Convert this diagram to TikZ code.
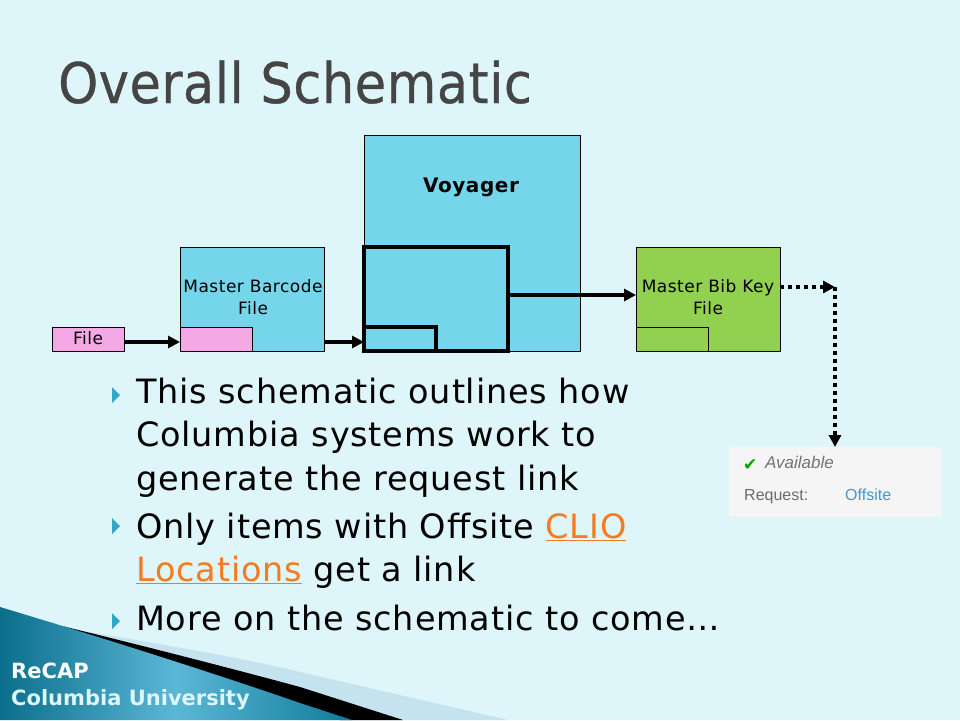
\documentclass[tikz,border=0pt]{standalone}
\usepackage{fontspec}
\setmainfont{DejaVu Sans}
\newfontfamily\cardfont{Liberation Sans}
\newfontfamily\titlefont[FakeStretch=0.91, FakeBold=0.6, LetterSpace=1]{DejaVu Sans}
\newfontfamily\bodyfont[LetterSpace=2.5]{DejaVu Sans}
\newfontfamily\labelfont[LetterSpace=3]{DejaVu Sans}
\usetikzlibrary{arrows.meta, positioning}
\definecolor{slidebg}{HTML}{DEF5FA}
\definecolor{skyblue}{HTML}{75D5EB}
\definecolor{filepink}{HTML}{F5A8E6}
\definecolor{bibgreen}{HTML}{92D050}
\definecolor{linkorange}{HTML}{F47B20}
\definecolor{bulletteal}{HTML}{2FA8C6}
\definecolor{titlegray}{HTML}{454545}
\definecolor{cardgray}{HTML}{F5F5F5}
\definecolor{offsiteblue}{HTML}{3F97D3}
\definecolor{swooshlight}{HTML}{C5E3EE}
\definecolor{footdark}{HTML}{0B6F8C}
\definecolor{footmid}{HTML}{5BB7D6}
\definecolor{footend}{HTML}{0E7C99}
\begin{document}
\begin{tikzpicture}[
    x=1pt, y=-1pt,
    box/.style={draw, line width=0.8pt, inner sep=0pt, outer sep=0pt, anchor=north west},
    boxlabel/.style={inner sep=0pt, align=center, font=\labelfont\fontsize{17}{22}\selectfont},
    bodytext/.style={anchor=base west, inner sep=0pt, font=\bodyfont\fontsize{33.5}{39}\selectfont},
    cardtext/.style={anchor=base west, inner sep=0pt, font=\cardfont\fontsize{16}{19}\selectfont},
    heavy/.style={line width=4pt},
    flow/.style={line width=3.5pt, -{Triangle[length=12pt, width=12pt]}},
    dottedflow/.style={flow, dash pattern=on 4pt off 4pt}
]
    % Slide background
    \fill[slidebg] (0,0) rectangle (960,720);
    \useasboundingbox (0,0) rectangle (960,720);

    % Footer swoosh
    \fill[swooshlight] (60,627) .. controls (140,641) and (230,655) .. (300,672) -- (508,720) -- (300,720) -- cycle;
    \fill[black] (62,626) .. controls (140,645) and (230,668) .. (300,687) -- (403,720) -- (340,720) -- cycle;
    \shade[left color=footdark, right color=footend, middle color=footmid]
        (0,607) .. controls (70,628) and (190,665) .. (300,703) -- (352,720) -- (0,720) -- cycle;

    % Title
    \node[anchor=base west, inner sep=0pt, text=titlegray, font=\titlefont\fontsize{56}{64}\selectfont] (title) at (58,103) {Overall Schematic};

    % Boxes
    \node[box, fill=skyblue, minimum width=216pt, minimum height=216pt] (voyager) at (364,135) {};
    \node[inner sep=0pt, font=\labelfont\bfseries\fontsize{20}{22}\selectfont] (voyagerlabel) at (471,187) {Voyager};
    \node[box, fill=skyblue, minimum width=144pt, minimum height=104pt] (barcode) at (180,247) {};
    \node[boxlabel] (barcodelabel) at (253,297) {Master Barcode\\File};
    \node[box, fill=filepink, minimum width=72pt, minimum height=24pt] (file) at (52,327) {};
    \node[boxlabel] (filelabel) at (88,338) {File};
    \node[box, fill=filepink, minimum width=72pt, minimum height=24pt] (barcodebar) at (180,327) {};
    \node[box, fill=bibgreen, minimum width=144pt, minimum height=104pt] (bibkey) at (636,247) {};
    \node[boxlabel] (bibkeylabel) at (708,297) {Master Bib Key\\File};
    \node[box, fill=bibgreen, minimum width=72pt, minimum height=24pt] (bibkeybar) at (636,327) {};

    % Heavy boxes inside Voyager
    \node[box, heavy, fill=skyblue, minimum width=144pt, minimum height=104pt] (merge) at (364,247) {};
    \node[box, heavy, fill=skyblue, minimum width=72pt, minimum height=24pt] (mergebar) at (364,327) {};

    % Result card
    \node[anchor=north west, fill=cardgray, minimum width=212pt, minimum height=70pt, inner sep=0pt, outer sep=0pt] (card) at (729,447) {};
    \node[text=green!65!black, anchor=base west, inner sep=0pt, font=\fontsize{17}{18}\selectfont] (cardtick) at (743,470) {✔};
    \node[cardtext, text=black!55, font=\cardfont\itshape\fontsize{17}{19}\selectfont] (cardavail) at (765,468) {Available};
    \node[cardtext, text=black!58] (cardrequest) at (744,500) {Request:};
    \node[cardtext, text=offsiteblue] (cardoffsite) at (845,500) {Offsite};

    % Arrows
    \coordinate (bend) at (835,287);
    \draw[flow] ([yshift=-3pt]file.east) -- ([yshift=-3pt]barcodebar.west);
    \draw[flow] ([yshift=-43pt]barcode.east) -- ([yshift=-43pt]merge.west);
    \draw[flow] ([yshift=4pt]merge.east) -- ([yshift=4pt]bibkey.west);
    \draw[dottedflow] ([yshift=12pt]bibkey.east) -- (bend);
    \draw[dottedflow] (bend) -- (card.north);

    % Bullets
    \foreach \ypos in {395, 526, 621}
        \fill[bulletteal] (112,\ypos-8) -- (120,\ypos) -- (112,\ypos+8) -- cycle;

    % Bullet text
    \node[bodytext] (lineone) at (136,403) {This schematic outlines how};
    \node[bodytext] (linetwo) at (136,446) {Columbia systems work to};
    \node[bodytext] (linethree) at (136,490) {generate the request link};
    \node[bodytext] (linefour) at (136,538) {Only items with Offsite \textcolor{linkorange}{\underline{CLIO}}};
    \node[bodytext] (linefive) at (136,581) {\textcolor{linkorange}{\underline{Locations}} get a link};
    \node[bodytext] (linesix) at (136,630) {More on the schematic to come…};

    % Footer text
    \node[anchor=base west, inner sep=0pt, text=white, font=\fontsize{21}{24}\selectfont\bfseries] (recap) at (11,678) {ReCAP};
    \node[anchor=base west, inner sep=0pt, text=slidebg, font=\fontsize{21}{24}\selectfont\bfseries] (columbia) at (11,705) {Columbia University};
\end{tikzpicture}
\end{document}
